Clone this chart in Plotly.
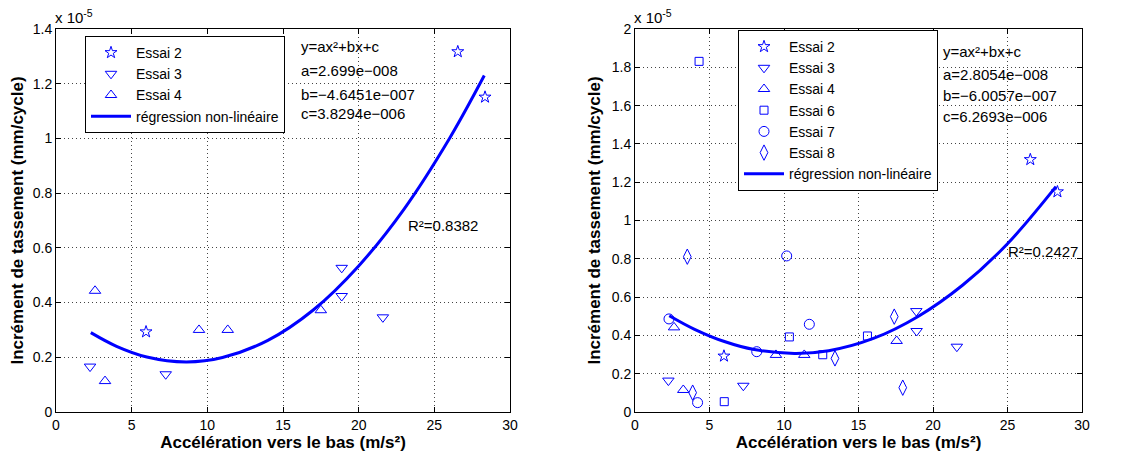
import plotly.graph_objects as go

BLUE = "#0000ff"
FONT = "Liberation Sans, Arial, sans-serif"

# ---- Left chart data (y in units of 1e-5 mm/cycle) ----
L_e2_x = [5.95, 26.55, 28.35]
L_e2_y = [0.293, 1.317, 1.151]
L_e3_x = [2.25, 7.25, 18.88, 18.88, 21.6]
L_e3_y = [0.166, 0.138, 0.527, 0.424, 0.346]
L_e4_x = [2.58, 3.24, 9.45, 11.35, 17.5]
L_e4_y = [0.443, 0.113, 0.300, 0.300, 0.372]
L_fit_x = [2.3, 4, 6, 8.6, 11, 14, 17, 20, 23, 26, 28.3]
L_fit_y = [0.290, 0.240, 0.201, 0.183, 0.199, 0.262, 0.373, 0.534, 0.742, 1.000, 1.230]

# ---- Right chart data ----
R_e2_x = [5.97, 26.53, 28.35]
R_e2_y = [0.292, 1.318, 1.150]
R_e3_x = [2.24, 7.27, 18.88, 18.9, 21.6]
R_e3_y = [0.164, 0.137, 0.527, 0.423, 0.341]
R_e4_x = [2.62, 3.24, 9.46, 11.36, 17.56]
R_e4_y = [0.442, 0.115, 0.298, 0.298, 0.371]
R_e6_x = [4.3, 5.99, 10.36, 12.6, 15.6]
R_e6_y = [1.831, 0.054, 0.392, 0.299, 0.397]
R_e7_x = [2.28, 4.2, 8.17, 10.18, 11.7]
R_e7_y = [0.486, 0.049, 0.315, 0.815, 0.458]
R_e8_x = [3.51, 3.87, 13.42, 17.4, 17.97]
R_e8_y = [0.811, 0.101, 0.280, 0.498, 0.127]
R_fit_x = [2.3, 4, 6, 8, 10.7, 13, 16, 19, 22, 25, 28.25]
R_fit_y = [0.503, 0.432, 0.368, 0.326, 0.306, 0.320, 0.384, 0.499, 0.663, 0.879, 1.177]

fig = go.Figure()

SIZES = {"star-open": 9, "triangle-down-open": 10, "triangle-up-open": 10,
         "square-open": 8, "circle-open": 10, "diamond-tall-open": 11}

def add_set(xa, ya, leg, sets, fx, fy):
    for name, xs, ys, sym in sets:
        fig.add_trace(go.Scatter(x=xs, y=ys, mode="markers", name=name,
                                 marker=dict(symbol=sym, size=SIZES[sym], color=BLUE,
                                             line=dict(color=BLUE, width=1)),
                                 xaxis=xa, yaxis=ya, legend=leg))
    fig.add_trace(go.Scatter(x=fx, y=fy, mode="lines", name="régression non-linéaire",
                             line=dict(color=BLUE, width=3, shape="spline"),
                             xaxis=xa, yaxis=ya, legend=leg))

add_set("x", "y", "legend", [
    ("Essai 2", L_e2_x, L_e2_y, "star-open"),
    ("Essai 3", L_e3_x, L_e3_y, "triangle-down-open"),
    ("Essai 4", L_e4_x, L_e4_y, "triangle-up-open"),
], L_fit_x, L_fit_y)

add_set("x2", "y2", "legend2", [
    ("Essai 2", R_e2_x, R_e2_y, "star-open"),
    ("Essai 3", R_e3_x, R_e3_y, "triangle-down-open"),
    ("Essai 4", R_e4_x, R_e4_y, "triangle-up-open"),
    ("Essai 6", R_e6_x, R_e6_y, "square-open"),
    ("Essai 7", R_e7_x, R_e7_y, "circle-open"),
    ("Essai 8", R_e8_x, R_e8_y, "diamond-tall-open"),
], R_fit_x, R_fit_y)

# the page body has an 8px margin; figure sized to fit the window exactly
OFF = 8
W, H = 1139 - OFF, 456 - OFF
def px(v): return (v - OFF) / W
def py(v): return 1 - (v - OFF) / H

axis_common = dict(showline=True, linecolor="black", linewidth=1, mirror="ticks",
                    ticks="inside", ticklen=5, tickcolor="black", automargin=False,
                    showgrid=True, gridcolor="#444444", griddash="1px,3px", gridwidth=1,
                    zeroline=False, tickfont=dict(family=FONT, size=14, color="black"))

title_font = dict(family=FONT, size=17, color="black")

legend_common = dict(xanchor="left", yanchor="top", bgcolor="white", bordercolor="black",
                     borderwidth=1, itemwidth=40, tracegroupgap=0,
                     font=dict(family=FONT, size=14, color="black"))

fig.update_layout(
    width=W, height=H, margin=dict(l=0, r=0, t=0, b=0, autoexpand=False),
    paper_bgcolor="white", plot_bgcolor="white",
    font=dict(family=FONT, size=14, color="black"),
    xaxis=dict(domain=[px(56), px(510)], range=[0, 30], dtick=5,
               title=dict(text="<b>Accélération vers le bas (m/s²)</b>", font=title_font, standoff=2),
               anchor="y", **axis_common),
    yaxis=dict(domain=[py(412), py(29)], range=[0, 1.4], dtick=0.2,
               title=dict(text="<b>Incrément de tassement (mm/cycle)</b>", font=title_font, standoff=6),
               anchor="x", **axis_common),
    xaxis2=dict(domain=[px(635), px(1082)], range=[0, 30], dtick=5,
                title=dict(text="<b>Accélération vers le bas (m/s²)</b>", font=title_font, standoff=2),
                anchor="y2", **axis_common),
    yaxis2=dict(domain=[py(412), py(29)], range=[0, 2], dtick=0.2,
                title=dict(text="<b>Incrément de tassement (mm/cycle)</b>", font=title_font, standoff=6),
                anchor="x2", **axis_common),
    legend=dict(x=px(85), y=py(36), **legend_common),
    legend2=dict(x=px(738), y=py(30), **legend_common),
)

ann_font = dict(family=FONT, size=15, color="black")
def ann(text, x, y, xanchor="left"):
    fig.add_annotation(text=text, x=px(x), y=py(y), xref="paper", yref="paper",
                       xanchor=xanchor, yanchor="middle", showarrow=False, font=ann_font)

# left annotations
ann("x 10<sup>-5</sup>", 53, 16)
ann("y=ax²+bx+c", 299, 46)
ann("a=2.699e−008", 299, 70)
ann("b=−4.6451e−007", 299, 94)
ann("c=3.8294e−006", 299, 114)
ann("R²=0.8382", 406, 226)
# right annotations
ann("x 10<sup>-5</sup>", 632, 16)
ann("y=ax²+bx+c", 941, 52)
ann("a=2.8054e−008", 941, 75)
ann("b=−6.0057e−007", 941, 96)
ann("c=6.2693e−006", 941, 116)
ann("R²=0.2427", 1006, 252)

fig.write_html("out.html")
